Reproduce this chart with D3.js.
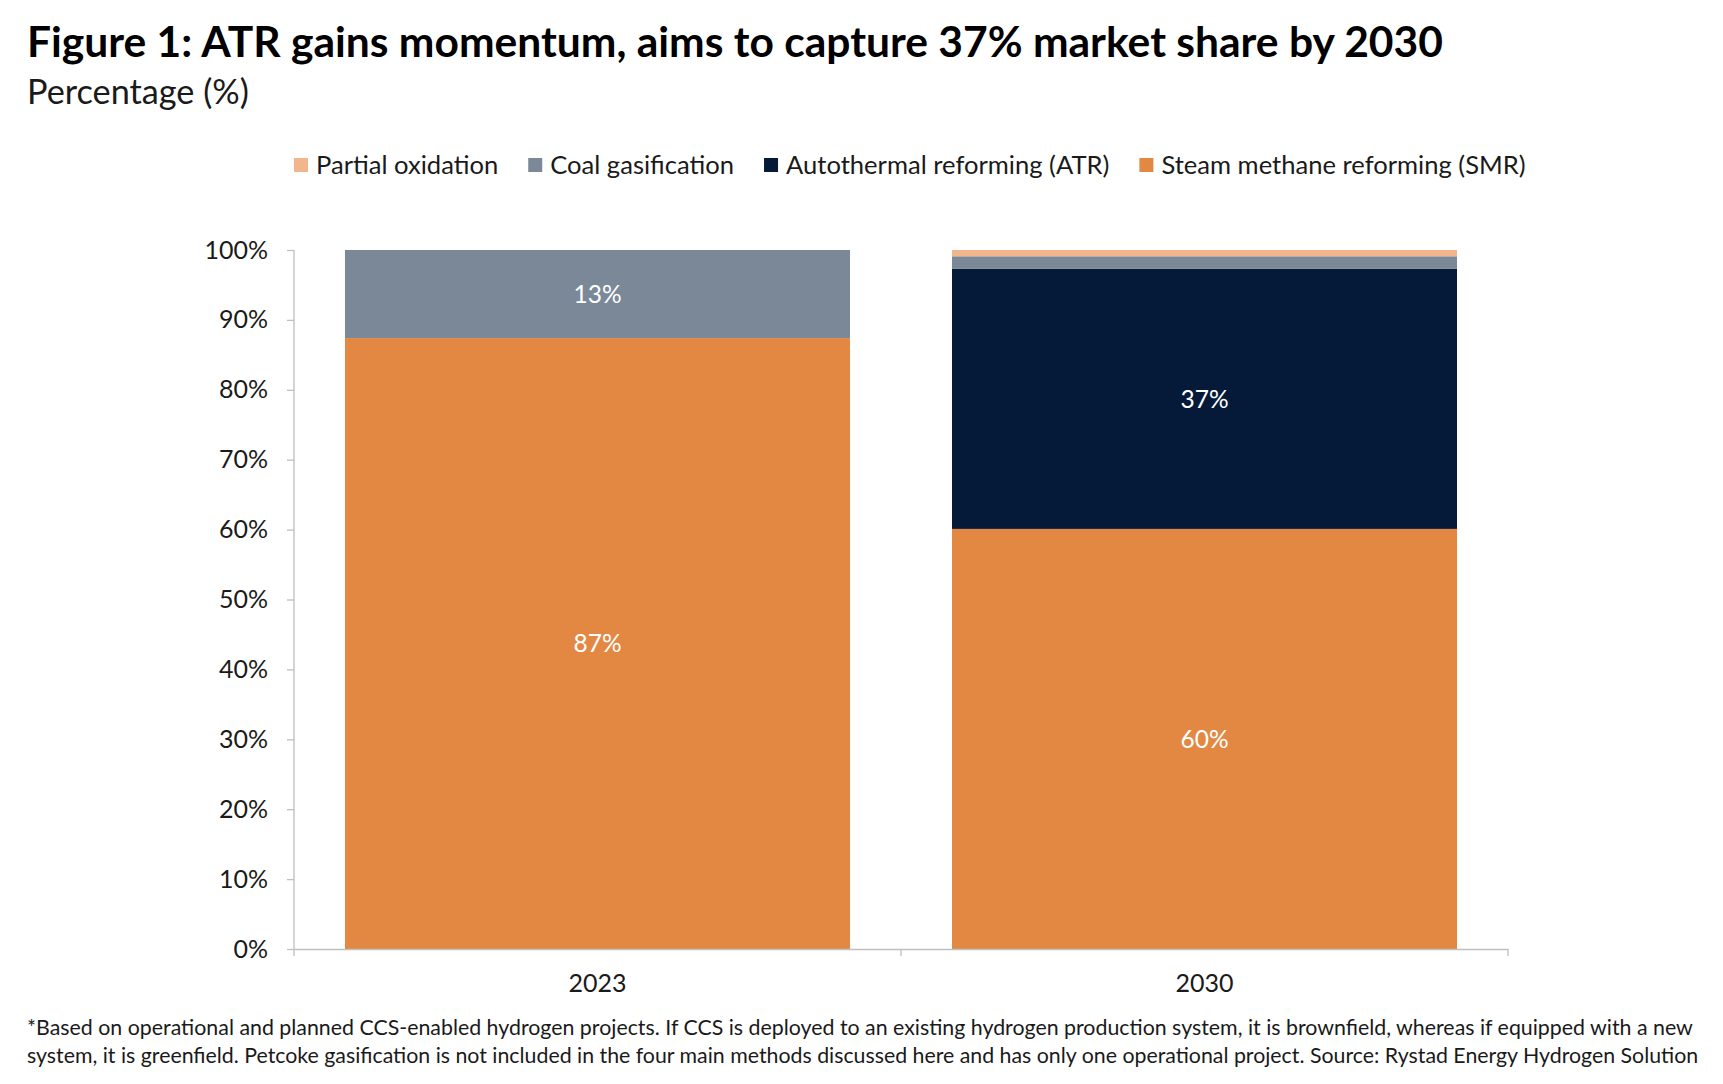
<!DOCTYPE html>
<html><head><meta charset="utf-8">
<script src="https://cdn.jsdelivr.net/npm/d3@7"></script>
<style>
html,body{margin:0;padding:0;background:#fff;}
svg{display:block;font-family:Lato,"Open Sans",sans-serif;}
</style></head>
<body>
<svg id="chart" width="1723" height="1084"></svg>
<script>
const categories = ["2023", "2030"];
const seriesNames = ["Steam methane reforming (SMR)", "Autothermal reforming (ATR)", "Coal gasification", "Partial oxidation"];
const smrValues = [87.4, 60.1];
const atrValues = [0, 37.2];
const coalValues = [12.6, 1.8];
const poValues = [0, 0.9];
const legendOrder = ["Partial oxidation", "Coal gasification", "Autothermal reforming (ATR)", "Steam methane reforming (SMR)"];
const yTicks = [0, 10, 20, 30, 40, 50, 60, 70, 80, 90, 100];
const labelledSegments = [["2023","Coal gasification"],["2023","Steam methane reforming (SMR)"],["2030","Autothermal reforming (ATR)"],["2030","Steam methane reforming (SMR)"]];
const titleText = "Figure 1: ATR gains momentum, aims to capture 37% market share by 2030";
const subtitleText = "Percentage (%)";
const footLines = ["*Based on operational and planned CCS-enabled hydrogen projects. If CCS is deployed to an existing hydrogen production system, it is brownfield, whereas if equipped with a new",
"system, it is greenfield. Petcoke gasification is not included in the four main methods discussed here and has only one operational project. Source: Rystad Energy Hydrogen Solution"];

const colors = {
  "Steam methane reforming (SMR)": "#E38842",
  "Autothermal reforming (ATR)": "#051A38",
  "Coal gasification": "#7A8898",
  "Partial oxidation": "#F2B58C"
};

const svg = d3.select("#chart");
const textColor = "#1a1a1a";
const FONT = "Lato,'Open Sans',sans-serif";

function fitText(sel, targetW) {
  const w = sel.node().getComputedTextLength();
  const fs = parseFloat(sel.attr("font-size"));
  sel.attr("font-size", fs * targetW / w);
}

// Title
const title = svg.append("text").attr("x", 27).attr("y", 57).attr("font-size", 38)
  .attr("font-weight", 700).attr("fill", "#000").text(titleText);
fitText(title, 1416);
const sub = svg.append("text").attr("x", 27).attr("y", 104).attr("font-size", 30)
  .attr("fill", "#1a1a1a").text(subtitleText);
fitText(sub, 222);

// Data table
const table = categories.map((c, i) => ({
  cat: c,
  "Steam methane reforming (SMR)": smrValues[i],
  "Autothermal reforming (ATR)": atrValues[i],
  "Coal gasification": coalValues[i],
  "Partial oxidation": poValues[i]
}));
const stacked = d3.stack().keys(seriesNames)(table);

const x = d3.scaleBand().domain(categories).range([294, 1508]).paddingInner(0.168).paddingOuter(0.084);
const y = d3.scaleLinear().domain([0, 100]).range([949, 250]);

// Bars
svg.append("g").selectAll("g").data(stacked).join("g")
  .attr("fill", d => colors[d.key])
  .selectAll("rect").data(d => d).join("rect")
  .attr("x", d => x(d.data.cat))
  .attr("width", x.bandwidth())
  .attr("y", d => y(d[1]))
  .attr("height", d => y(d[0]) - y(d[1]));

// Labels
stacked.forEach(layer => {
  layer.forEach(d => {
    if (labelledSegments.some(s => s[0] === d.data.cat && s[1] === layer.key)) {
      svg.append("text")
        .attr("x", x(d.data.cat) + x.bandwidth() / 2)
        .attr("y", (y(d[0]) + y(d[1])) / 2)
        .attr("dy", "0.36em")
        .attr("text-anchor", "middle")
        .attr("font-size", 24.5)
        .attr("fill", "#fff")
        .text(Math.round(d[1] - d[0]) + "%");
    }
  });
});

// Y axis
const yAxis = svg.append("g").attr("transform", "translate(294,0)")
  .call(d3.axisLeft(y).tickValues(yTicks).tickFormat(d => d + "%").tickSize(7).tickPadding(19));
yAxis.select(".domain").attr("stroke", "#bfbfbf").attr("stroke-width", 1.3).attr("d", "M0,250V949");
yAxis.selectAll(".tick line").attr("stroke", "#bfbfbf").attr("stroke-width", 1.3);
yAxis.selectAll(".tick text").attr("font-size", 25).attr("fill", textColor).attr("font-family", FONT);

// X axis
const xAxis = svg.append("g").attr("transform", "translate(0,949)")
  .call(d3.axisBottom(x).tickSize(0).tickPadding(25));
xAxis.select(".domain").attr("stroke", "#bfbfbf").attr("stroke-width", 1.3);
xAxis.selectAll(".tick text").attr("font-size", 25).attr("fill", textColor).attr("font-family", FONT);
const bounds = [x.range()[0]].concat(categories.map(c => x(c) + x.bandwidth() + x.step() * x.paddingInner() / 2));
bounds[bounds.length - 1] = x.range()[1];
xAxis.selectAll(".sep").data(bounds).join("line").attr("class", "sep")
  .attr("x1", d => d).attr("x2", d => d).attr("y1", 0).attr("y2", 7)
  .attr("stroke", "#bfbfbf").attr("stroke-width", 1.3);

// Legend: measure, then size text so the whole row spans the target width
const legend = svg.append("g");
const legendGap = 30, swatchOff = 22, baseFs = 23, lStart = 294, lEnd = 1526;
const probe = legend.append("text").attr("font-size", baseFs);
let sumW = 0;
legendOrder.forEach(name => { probe.text(name); sumW += probe.node().getComputedTextLength(); });
probe.remove();
const k = (lEnd - lStart - legendOrder.length * swatchOff - (legendOrder.length - 1) * legendGap) / sumW;
let lx = lStart;
legendOrder.forEach(name => {
  legend.append("rect").attr("x", lx).attr("y", 158).attr("width", 14).attr("height", 14).attr("fill", colors[name]);
  const t = legend.append("text").attr("x", lx + swatchOff).attr("y", 174).attr("font-size", baseFs * k).attr("fill", textColor).text(name);
  lx += swatchOff + t.node().getComputedTextLength() + legendGap;
});

// Footnote
footLines.forEach((line, i) => {
  const t = svg.append("text").attr("x", 27).attr("y", 1035 + i * 28).attr("font-size", 20)
    .attr("fill", textColor).text(line);
  fitText(t, i === 0 ? 1667 : 1672);
});
</script>
</body></html>
